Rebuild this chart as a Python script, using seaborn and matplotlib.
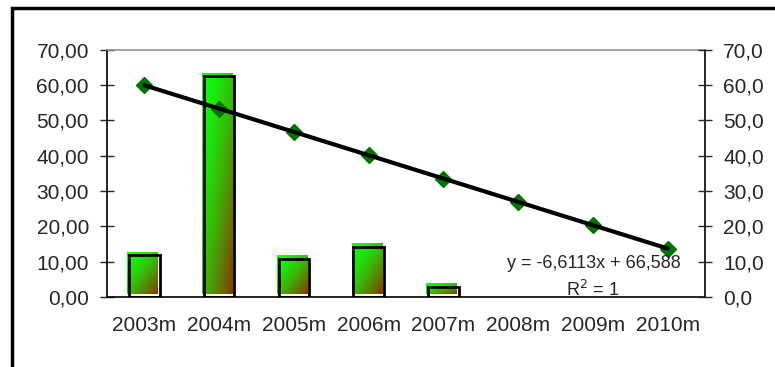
import numpy as np
import matplotlib
matplotlib.use("Agg")
import matplotlib.pyplot as plt
import seaborn as sns
from matplotlib.patches import Rectangle
from matplotlib.ticker import FuncFormatter, FixedLocator

years = ["2003m", "2004m", "2005m", "2006m", "2007m", "2008m", "2009m", "2010m"]
values = [11.8, 62.6, 10.8, 14.2, 2.9, 0, 0, 0]
slope = -6.6113
intercept = 66.588
trend_label = "y = -6,6113x + 66,588"
r2_label = "R$^2$ = 1"

sns.set_style("white")
plt.rcParams["font.family"] = ["Liberation Sans", "DejaVu Sans"]

fig = plt.figure(figsize=(7.75, 3.67), dpi=100)
ax = fig.add_axes([0.138, 0.191, 0.772, 0.673])

sns.barplot(x=years, y=values, color="white", edgecolor="black",
            linewidth=2, width=0.41, ax=ax, zorder=3)

# gradient fill, shifted a bit up-left like the original shadow look
green = np.array([0.05, 1.0, 0.05])
brown = np.array([0.55, 0.2, 0.0])
n = 60
u, v = np.meshgrid(np.linspace(0, 1, n), np.linspace(0, 1, n))
t = np.clip((u + v) / 2, 0, 1) ** 1.6
grad = green[None, None, :] * (1 - t[..., None]) + brown[None, None, :] * t[..., None]
for p in ax.patches:
    h = p.get_height()
    if h <= 0:
        p.set_visible(False)
        continue
    p.set_facecolor("none")
    x0 = p.get_x() - 0.025
    ax.imshow(grad, extent=(x0, x0 + p.get_width(), 0.8, h + 0.8),
              origin="upper", aspect="auto", zorder=2, interpolation="bilinear")

xs = np.arange(1, len(years) + 1)
trend = slope * xs + intercept
ax.plot(xs - 1, trend, linestyle="none", marker="D", markersize=8.5,
        color="#007400", zorder=4)
sns.lineplot(x=xs - 1, y=trend, color="black", linewidth=3, ax=ax, zorder=5)

ax.set_xlim(-0.5, 7.5)
ax.set_ylim(0, 70)
ax.set_yticks(np.arange(0, 71, 10))
ax.yaxis.set_major_formatter(FuncFormatter(lambda y, _: f"{y:.2f}".replace(".", ",")))
ax.xaxis.set_major_locator(FixedLocator(np.arange(-0.5, 8, 1)))
ax.xaxis.set_minor_locator(FixedLocator(np.arange(0, 8)))
ax.set_xticklabels([], minor=False)
ax.set_xticklabels(years, minor=True)
ax.tick_params(axis="x", which="major", direction="inout", length=10, width=1)
ax.tick_params(axis="x", which="minor", length=0, pad=14, labelsize=15)
ax.tick_params(axis="y", direction="inout", length=10, width=1, pad=8, labelsize=15, left=True)
ax.set_xlabel("")
ax.set_ylabel("")

for s in ["left", "right", "bottom"]:
    ax.spines[s].set_color("black")
    ax.spines[s].set_linewidth(1.2)
ax.spines["top"].set_color("#909090")
ax.spines["top"].set_linewidth(1.2)

ax2 = ax.twinx()
ax2.set_ylim(0, 70)
ax2.set_yticks(np.arange(0, 71, 10))
ax2.yaxis.set_major_formatter(FuncFormatter(lambda y, _: f"{y:.1f}".replace(".", ",")))
ax2.tick_params(axis="y", direction="inout", length=10, width=1, pad=8, labelsize=15, right=True)
for s in ax2.spines.values():
    s.set_visible(False)

fig.text(0.766, 0.283, trend_label, ha="center", va="center", fontsize=13)
fig.text(0.765, 0.21, r2_label, ha="center", va="center", fontsize=13)

fig.add_artist(Rectangle((12 / 775, -0.1), 1.1, 1 - 8 / 367 + 0.1,
                         transform=fig.transFigure, fill=False, lw=2.5,
                         edgecolor="black", clip_on=False))

fig.savefig("out.png", dpi=100)
